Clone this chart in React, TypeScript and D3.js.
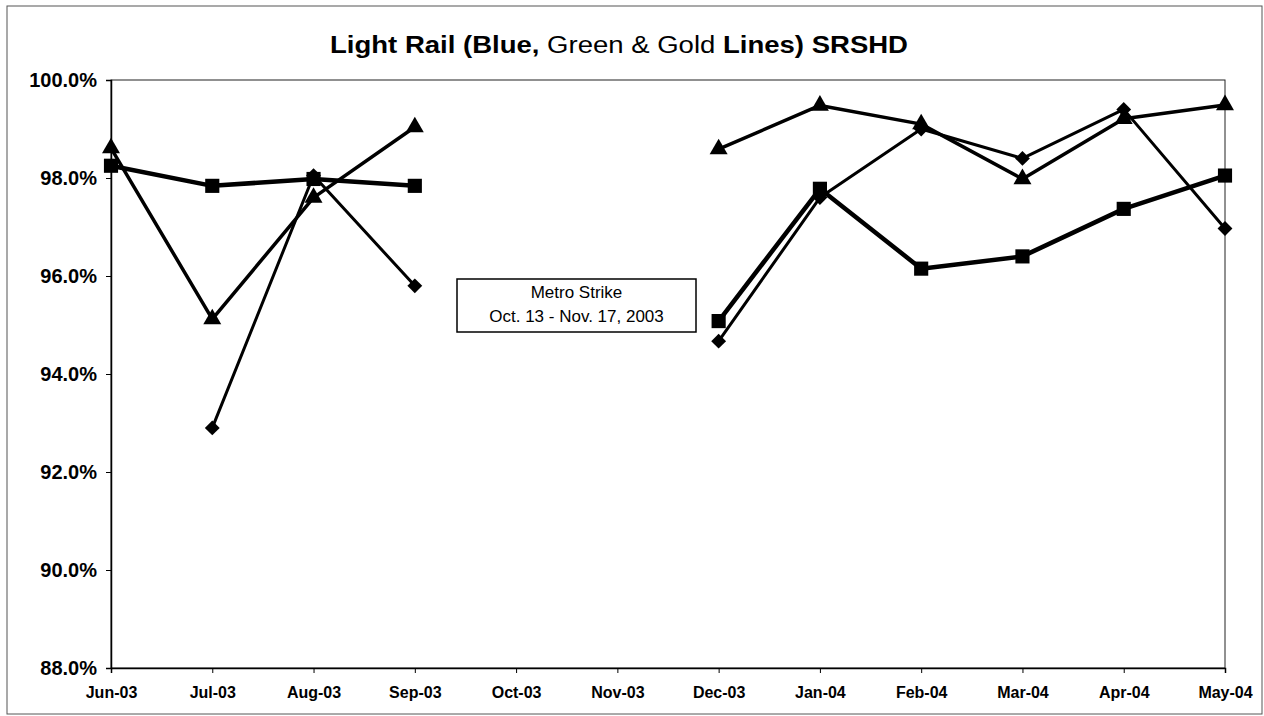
import { useEffect, useRef } from 'react';
import * as d3 from 'd3';

// page size and plot margins
const W = 1264
const H = 716
const margin = { top: 80, right: 39, bottom: 48, left: 111 }
const width = W - margin.left - margin.right
const height = H - margin.top - margin.bottom

const FONT = '"Liberation Sans", Arial, sans-serif'

const months = ['Jun-03', 'Jul-03', 'Aug-03', 'Sep-03', 'Oct-03', 'Nov-03', 'Dec-03', 'Jan-04', 'Feb-04', 'Mar-04', 'Apr-04', 'May-04']

// no data during the strike (Oct, Nov)
const triangleVals = [98.61, 95.12, 97.60, 99.04, null, null, 98.59, 99.48, 99.10, 97.98, 99.21, 99.49]
const squareVals = [98.25, 97.84, 97.98, 97.84, null, null, 95.08, 97.78, 96.15, 96.40, 97.37, 98.05]
const diamondVals = [null, 92.90, 98.05, 95.80, null, null, 94.67, 97.60, 99.00, 98.40, 99.40, 96.97]

const yTicks = [88, 90, 92, 94, 96, 98, 100]

const title = ['Light Rail (Blue, ', 'Green & Gold', ' Lines) SRSHD']
const noteLines = ['Metro Strike', 'Oct. 13 - Nov. 17, 2003']

const App = () => {
  const d3svg = useRef(null)

  useEffect(() => {
    if (!d3svg.current) return
    const root = d3.select(d3svg.current)
    root.selectAll('*').remove()

    // outer chart frame
    root.append('rect')
      .attr('x', 7).attr('y', 6).attr('width', 1255).attr('height', 708)
      .attr('fill', 'none').attr('stroke', '#555').attr('stroke-width', 1)

    // title, middle words in normal weight as in the original
    const t = root.append('text')
      .attr('x', 619).attr('y', 53)
      .attr('text-anchor', 'middle')
      .attr('textLength', 578)
      .attr('lengthAdjust', 'spacingAndGlyphs')
      .style('font-family', FONT).style('font-size', '23px')
    title.forEach((s, i) => {
      t.append('tspan').attr('font-weight', i === 1 ? 'normal' : 'bold').text(s)
    })

    const svg = root.append('g').attr('transform', `translate(${margin.left},${margin.top})`)

    const x = d3.scalePoint().domain(months).range([0, width])
    const y = d3.scaleLinear().domain([88, 100]).range([height, 0])

    // plot box
    svg.append('rect')
      .attr('width', width).attr('height', height)
      .attr('fill', 'none').attr('stroke', '#222').attr('stroke-width', 1)

    const yAxis = d3.axisLeft(y).tickValues(yTicks).tickSize(5).tickPadding(9)
      .tickFormat(d => d3.format('.1f')(d) + '%')
    const gy = svg.append('g').call(yAxis)
    gy.select('.domain').attr('stroke-width', 1.5)
    gy.selectAll('text').style('font-family', FONT).style('font-size', '20px').style('font-weight', 'bold')

    const xAxis = d3.axisBottom(x).tickSize(5).tickPadding(14)
    const gx = svg.append('g').attr('transform', `translate(0,${height})`).call(xAxis)
    gx.select('.domain').attr('stroke-width', 1.5)
    gx.selectAll('text').style('font-family', FONT).style('font-size', '16px').style('font-weight', 'bold')

    const series = [
      { vals: diamondVals, sw: 3, sym: d3.symbolSquare, size: 110, rot: 45 },
      { vals: squareVals, sw: 4.5, sym: d3.symbolSquare, size: 200, rot: 0 },
      { vals: triangleVals, sw: 3.5, sym: d3.symbolTriangle, size: 140, rot: 0 },
    ]

    series.forEach(s => {
      const pts = months.map((m, i) => ({ m, v: s.vals[i] }))
      const line = d3.line<{ m: string, v: number | null }>()
        .defined(d => d.v != null)
        .x(d => x(d.m))
        .y(d => y(d.v as number))
      svg.append('path')
        .datum(pts)
        .attr('d', line)
        .attr('fill', 'none')
        .attr('stroke', '#000')
        .attr('stroke-width', s.sw)
        .attr('stroke-linejoin', 'round')

      svg.selectAll(null)
        .data(pts.filter(d => d.v != null))
        .enter()
        .append('path')
        .attr('d', d3.symbol(s.sym, s.size)())
        .attr('transform', d => `translate(${x(d.m)},${y(d.v as number)}) rotate(${s.rot})`)
        .attr('fill', '#000')
    })

    // strike note
    const note = root.append('g').attr('transform', 'translate(457,279)')
    note.append('rect')
      .attr('width', 239).attr('height', 53)
      .attr('fill', '#fff').attr('stroke', '#000').attr('stroke-width', 1.5)
    noteLines.forEach((s, i) => {
      note.append('text')
        .attr('x', 119.5).attr('y', 19 + i * 24)
        .attr('text-anchor', 'middle')
        .style('font-family', FONT).style('font-size', '17px')
        .text(s)
    })
  }, [])

  return (
    <svg
      width={W}
      height={H}
      ref={d3svg}
      style={{ position: 'absolute', left: 0, top: 0, background: '#fff' }}
    ></svg>
  )
}

export default App;
